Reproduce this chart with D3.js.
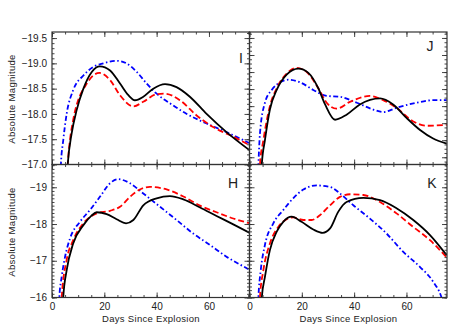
<!DOCTYPE html>
<html>
<head>
<meta charset="utf-8">
<script src="https://cdn.jsdelivr.net/npm/d3@7"></script>
<style>
body { margin: 0; background: #fff; }
text { font-family: "Liberation Sans", Arial, sans-serif; fill: #222; }
</style>
</head>
<body>
<script>
// light curves, [days, absolute magnitude]
var iBlack = [[5.5,-16.6],[6.0,-17.0],[7.5,-17.61],[9.4,-18.07],[12,-18.5],[15.2,-18.83],[18.3,-18.94],[22.2,-18.86],[26,-18.6],[29.2,-18.37],[31.7,-18.27],[34.9,-18.34],[38.7,-18.5],[43.2,-18.59],[47.6,-18.53],[52.7,-18.34],[59.1,-18.0],[66.7,-17.64],[75.6,-17.28]];
var iRed = [[5.5,-16.6],[6.0,-17.0],[8.1,-17.88],[13.3,-18.6],[18.1,-18.81],[22.2,-18.67],[26,-18.37],[31.1,-18.15],[34.9,-18.24],[40,-18.39],[43.2,-18.4],[48.9,-18.27],[55.3,-17.97],[61.6,-17.74],[69.3,-17.55],[75.6,-17.38]];
var iBlue = [[3.0,-16.5],[3.4,-17.0],[4.3,-17.48],[5.6,-18.0],[8.1,-18.47],[12,-18.76],[15.8,-18.93],[19.6,-19.0],[24.7,-19.05],[28.5,-19.0],[32.4,-18.83],[36.2,-18.6],[40,-18.4],[45.1,-18.21],[51.5,-18.0],[59.1,-17.81],[66.7,-17.64],[74.4,-17.45],[75.6,-17.42]];

var jBlack = [[4.3,-17.2],[4.7,-17.515],[5.9,-17.8],[7.8,-18.16],[10.4,-18.39],[14.2,-18.57],[18.7,-18.64],[22.5,-18.59],[26.3,-18.41],[28.9,-18.22],[32.7,-18.04],[37.1,-18.1],[42.2,-18.22],[49.9,-18.29],[54.9,-18.22],[60.1,-18.06],[65.2,-17.92],[70.2,-17.82],[75.4,-17.76]];
var jRed = [[3.6,-17.2],[4.0,-17.515],[5.3,-17.8],[7.8,-18.2],[10.4,-18.41],[14.2,-18.58],[18.0,-18.65],[21.9,-18.6],[26.3,-18.41],[29.5,-18.24],[33.3,-18.17],[38.4,-18.25],[46.0,-18.32],[51.1,-18.27],[56.2,-18.18],[62.6,-18.02],[67.7,-17.97],[75.4,-17.98]];
var jBlue = [[3.0,-17.2],[3.4,-17.515],[4.0,-17.88],[5.9,-18.24],[8.5,-18.39],[11.7,-18.48],[14.8,-18.51],[19.3,-18.48],[24.4,-18.39],[29.5,-18.32],[34.6,-18.31],[41.0,-18.24],[47.3,-18.16],[51.1,-18.13],[56.2,-18.18],[63.9,-18.24],[70.2,-18.27],[75.4,-18.27]];

var hBlack = [[4.0,-15.5],[4.3,-16.0],[5.6,-16.74],[8.1,-17.47],[12,-17.97],[15,-18.22],[17.1,-18.32],[20.9,-18.27],[24.7,-18.13],[28.3,-18.02],[31.1,-18.11],[34.9,-18.51],[40,-18.7],[45.1,-18.76],[50.2,-18.67],[56.6,-18.45],[62.9,-18.22],[69.3,-17.99],[75.6,-17.76]];
var hRed = [[3.4,-15.5],[3.7,-16.0],[5.6,-17.02],[8.1,-17.56],[12,-18.02],[17.1,-18.29],[22.2,-18.36],[26,-18.47],[29.8,-18.74],[33.6,-18.94],[37.4,-19.01],[43.8,-18.94],[50.2,-18.75],[56.6,-18.5],[62.9,-18.32],[69.3,-18.15],[75.6,-18.02]];
var hBlue = [[2.5,-15.5],[2.8,-16.0],[3.7,-16.56],[5.0,-17.11],[6.9,-17.61],[10.7,-18.06],[14.5,-18.38],[18.3,-18.74],[22.2,-19.11],[25.3,-19.22],[29.8,-19.11],[34.9,-18.83],[41.3,-18.47],[47.6,-18.11],[54,-17.74],[60.4,-17.43],[66.7,-17.11],[71.8,-16.9],[75.6,-16.75]];

var kBlack = [[4.4,-15.5],[4.7,-16.0],[5.9,-16.56],[7.8,-17.29],[10.4,-17.79],[12.9,-18.06],[16.1,-18.2],[19.9,-18.06],[24.4,-17.85],[28.0,-17.76],[30.8,-17.88],[33.9,-18.33],[37.1,-18.6],[43.5,-18.71],[49.9,-18.65],[56.2,-18.43],[62.6,-18.11],[69,-17.7],[75.4,-17.15]];
var kRed = [[3.7,-15.5],[4.0,-16.0],[5.3,-16.74],[7.8,-17.47],[11.0,-17.92],[14.2,-18.13],[16.7,-18.18],[20.6,-18.11],[23.8,-18.11],[26.9,-18.24],[30.8,-18.51],[34.6,-18.74],[38.4,-18.81],[43.5,-18.79],[49.9,-18.6],[56.2,-18.29],[62.6,-17.92],[69,-17.56],[75.4,-17.09]];
var kBlue = [[3.1,-15.5],[3.4,-16.0],[4.3,-16.74],[5.9,-17.43],[9.1,-18.02],[12.9,-18.38],[16.7,-18.7],[20.6,-18.94],[25.7,-19.05],[30.8,-19.01],[34.6,-18.83],[39.7,-18.51],[46.0,-18.15],[52.4,-17.74],[58.8,-17.24],[65.2,-16.83],[70.2,-16.43],[73.4,-16.0],[74,-15.85]];

// axis ticks
var dayTicks = [0, 20, 40, 60];
var topMagTicks = [-19.5, -19.0, -18.5, -18.0, -17.5, -17.0];
var jMagTicks = [-19.0, -18.8, -18.6, -18.4, -18.2, -18.0, -17.8, -17.6];
var bottomMagTicks = [-19, -18, -17, -16];

var width = 463, height = 331;
var leftX = 52, midX = 249.5, rightX = 447,
    topY = 32, midY = 164.5, bottomY = 297.5;

var svg = d3.select("body").append("svg")
    .attr("width", width)
    .attr("height", height);

var styles = [
    { color: "#0000ff", dash: "5,2.5,1.5,2.5" },
    { color: "#ff0000", dash: "6,3" },
    { color: "#000000", dash: null }
];

var panels = [
    { name: "I", x0: leftX, x1: midX, y0: topY, y1: midY, dom: [-17, -19.62], major: topMagTicks, minorStep: 0.1, fmt: d3.format(".1f"), labels: true, xLabels: false, series: [iBlue, iRed, iBlack], lx: 241, ly: 63 },
    { name: "J", x0: midX, x1: rightX, y0: topY, y1: midY, dom: [-17.515, -19.07], major: jMagTicks, minorStep: 0.05, fmt: null, labels: false, xLabels: false, series: [jBlue, jRed, jBlack], lx: 430, ly: 51 },
    { name: "H", x0: leftX, x1: midX, y0: midY, y1: bottomY, dom: [-16, -19.62], major: bottomMagTicks, minorStep: 0.1, fmt: d3.format("d"), labels: true, xLabels: true, series: [hBlue, hRed, hBlack], lx: 233, ly: 188 },
    { name: "K", x0: midX, x1: rightX, y0: midY, y1: bottomY, dom: [-16, -19.62], major: bottomMagTicks, minorStep: 0.1, fmt: null, labels: false, xLabels: true, series: [kBlue, kRed, kBlack], lx: 432, ly: 188 }
];

// ticks on all four sides, pointing in
function addAxis(axisFn, scale, values, size, fmt, transform) {
    var ax = svg.append("g")
        .attr("transform", transform)
        .call(axisFn(scale).tickValues(values).tickSize(-size).tickPadding(5)
            .tickFormat(fmt || ""));
    ax.select(".domain").remove();
    ax.selectAll("line").attr("stroke", "#333").attr("stroke-width", 0.9);
    ax.selectAll("text").attr("font-size", 10).attr("fill", "#222")
        .attr("font-family", "Liberation Sans, Arial, sans-serif");
    return ax;
}

panels.forEach(function (p, i) {
    var x = d3.scaleLinear().domain([0, 75.5]).range([p.x0, p.x1]);
    var y = d3.scaleLinear().domain(p.dom).range([p.y1, p.y0]);

    var minorX = d3.range(0, 76, 5);
    var minorY = d3.range(Math.ceil(p.dom[1] / p.minorStep) * p.minorStep, p.dom[0] + 1e-6, p.minorStep);

    svg.append("clipPath").attr("id", "clip" + i)
        .append("rect")
        .attr("x", p.x0).attr("y", p.y0)
        .attr("width", p.x1 - p.x0).attr("height", p.y1 - p.y0);

    var line = d3.line()
        .x(d => x(d[0]))
        .y(d => y(d[1]))
        .curve(d3.curveMonotoneX);

    var g = svg.append("g").attr("clip-path", "url(#clip" + i + ")");
    p.series.forEach(function (s, k) {
        g.append("path")
            .datum(s)
            .attr("d", line)
            .attr("fill", "none")
            .attr("stroke", styles[k].color)
            .attr("stroke-width", 1.8)
            .attr("stroke-dasharray", styles[k].dash);
    });

    addAxis(d3.axisLeft, y, p.major, 5, p.labels ? p.fmt : null, "translate(" + p.x0 + ",0)");
    addAxis(d3.axisLeft, y, minorY, 2.5, null, "translate(" + p.x0 + ",0)");
    addAxis(d3.axisRight, y, p.major, 5, null, "translate(" + p.x1 + ",0)");
    addAxis(d3.axisRight, y, minorY, 2.5, null, "translate(" + p.x1 + ",0)");
    addAxis(d3.axisTop, x, dayTicks, 5, null, "translate(0," + p.y0 + ")");
    addAxis(d3.axisTop, x, minorX, 2.5, null, "translate(0," + p.y0 + ")");
    addAxis(d3.axisBottom, x, dayTicks, 5, p.xLabels ? d3.format("d") : null, "translate(0," + p.y1 + ")");
    addAxis(d3.axisBottom, x, minorX, 2.5, null, "translate(0," + p.y1 + ")");

    svg.append("rect")
        .attr("x", p.x0).attr("y", p.y0)
        .attr("width", p.x1 - p.x0).attr("height", p.y1 - p.y0)
        .attr("fill", "none")
        .attr("stroke", "#333")
        .attr("stroke-width", 1.2);

    svg.append("text")
        .attr("x", p.lx).attr("y", p.ly)
        .attr("text-anchor", "middle")
        .attr("font-size", 14)
        .attr("fill", "#333")
        .text(p.name);
});

// axis titles
[99, 232].forEach(function (cy) {
    svg.append("text")
        .attr("transform", "translate(15," + cy + ") rotate(-90)")
        .attr("text-anchor", "middle")
        .attr("font-size", 9.5)
        .attr("letter-spacing", 0.3)
        .text("Absolute Magnitude");
});
[151, 348.5].forEach(function (cx) {
    svg.append("text")
        .attr("x", cx).attr("y", 322)
        .attr("text-anchor", "middle")
        .attr("font-size", 9.5)
        .attr("letter-spacing", 0.3)
        .text("Days Since Explosion");
});
</script>
</body>
</html>
